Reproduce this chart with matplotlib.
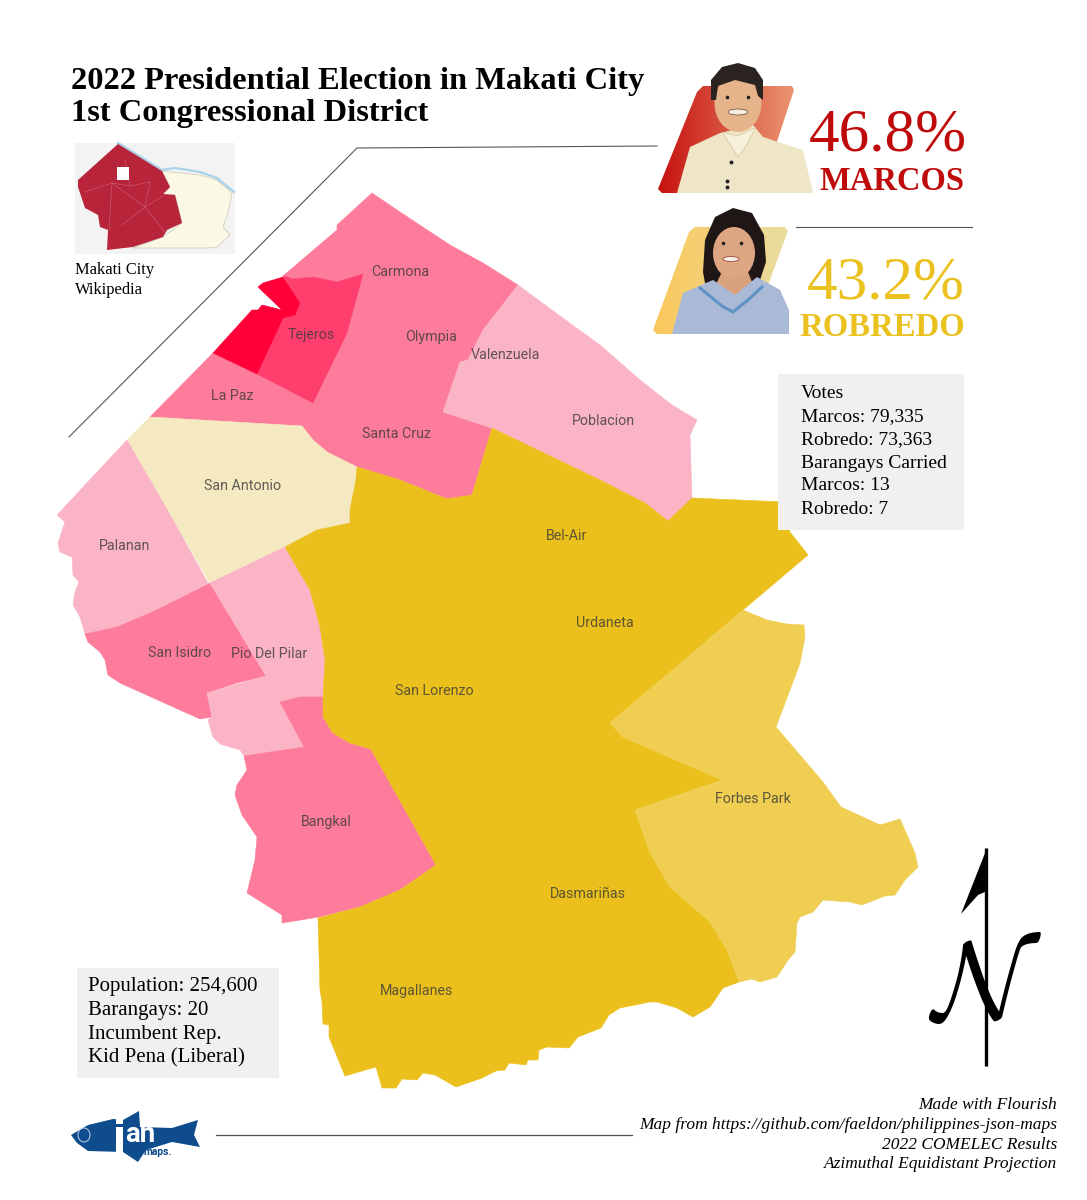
import numpy as np
import matplotlib
matplotlib.use("Agg")
import matplotlib.pyplot as plt
from matplotlib.patches import Polygon, Rectangle, Ellipse
from matplotlib.colors import LinearSegmentedColormap

# ---- barangay outlines (x, y in map pixels) ----
north_pink = [(372,193),(400,212),(450,245),(483,263),(518,285),(483,330),(468,360),(460,362),(443,412),(492,428),(472,495),(447,499),(400,480),(357,467),(327,452),(313,440),(302,426),(150,417),(213,353),(257,374),(313,403),(347,333),(363,274),(337,282),(313,277),(293,279),(283,276),(337,230),(337,225)]
tejeros = [(283,276),(293,279),(313,277),(337,282),(363,274),(347,333),(313,403),(257,374),(277,330),(283,318),(295,315),(300,303)]
kasilawan = [(258,287),(263,283),(283,277),(300,303),(295,315),(283,318),(257,374),(213,353),(252,310),(258,310),(262,305),(282,310)]
east_light = [(518,285),(560,316),(600,345),(640,380),(672,405),(697,420),(690,435),(692,498),(668,521),(645,503),(600,480),(492,428),(443,412),(460,362),(468,360),(483,330)]
san_antonio = [(150,417),(302,426),(313,440),(327,452),(357,467),(356,480),(350,510),(350,523),(317,530),(285,547),(210,583),(127,440)]
palanan = [(127,440),(173,520),(208,583),(177,600),(150,613),(117,627),(85,634),(80,617),(73,605),(75,592),(79,582),(73,575),(72,557),(60,552),(58,543),(65,522),(57,515)]
san_isidro = [(85,634),(117,627),(150,613),(177,600),(210,583),(266,676),(237,683),(207,693),(212,717),(200,719),(120,683),(108,675),(105,660),(100,652),(88,642)]
pio_del_pilar = [(210,583),(285,547),(310,590),(320,627),(325,660),(323,697),(300,697),(280,702),(304,747),(244,756),(240,750),(220,744),(213,737),(208,720),(212,717),(207,693),(266,676)]
bangkal = [(280,702),(300,697),(323,697),(323,717),(333,733),(350,743),(371,749),(436,865),(400,890),(360,907),(319,917),(282,923),(282,915),(247,893),(255,860),(257,837),(242,815),(235,795),(237,785),(247,770),(244,756),(304,747)]
gold_core = [(285,547),(317,530),(350,523),(350,510),(356,480),(357,467),(400,480),(447,499),(472,495),(492,428),(600,480),(645,503),(668,521),(692,498),(785,502),(790,532),(808,555),(743,610),(610,723),(623,737),(722,780),(635,810),(650,853),(670,887),(710,922),(727,950),(739,982),(723,988),(710,1007),(693,1017),(677,1008),(657,1002),(650,1002),(620,1008),(609,1015),(601,1028),(578,1037),(569,1048),(547,1047),(539,1050),(538,1060),(528,1060),(526,1065),(509,1063),(505,1070),(496,1071),(482,1078),(456,1087),(435,1075),(423,1073),(417,1080),(402,1079),(396,1088),(382,1088),(376,1067),(345,1076),(329,1037),(329,1025),(323,1024),(322,1002),(320,990),(318,918),(360,907),(400,890),(436,865),(371,749),(350,743),(333,733),(323,717),(323,697),(325,660),(320,627),(310,590)]
forbes_park = [(743,610),(767,620),(787,624),(804,625),(805,637),(800,663),(793,682),(776,727),(823,782),(841,807),(880,825),(900,819),(915,853),(918,867),(905,880),(895,895),(885,896),(862,905),(850,902),(823,900),(813,912),(800,917),(797,923),(795,952),(788,960),(777,977),(760,982),(752,979),(739,982),(727,950),(710,922),(670,887),(650,853),(635,810),(722,780),(623,737),(610,723)]

map_regions = [(north_pink,'#FD7C9B'),(tejeros,'#FE3F6E'),(kasilawan,'#FF0038'),(east_light,'#FAB4C6'),
               (san_antonio,'#F4E9C0'),(palanan,'#FAB4C6'),(san_isidro,'#FD7C9B'),(pio_del_pilar,'#FAB4C6'),
               (bangkal,'#FD7C9B'),(gold_core,'#ECC01C'),(forbes_park,'#EFCE52')]

label_names = ['Carmona','Tejeros','Olympia','Valenzuela','La Paz','Santa Cruz','Poblacion','San Antonio','Bel-Air','Palanan','Urdaneta','San Isidro','Pio Del Pilar','San Lorenzo','Forbes Park','Bangkal','Dasmariñas','Magallanes']
label_x = [400,311,431,505,232,396,603,243,567,125,605,180,269,434,753,326,588,417]
label_y = [272,335,337,355,396,434,421,486,536,546,623,653,654,691,799,822,894,991]

title_lines = ['2022 Presidential Election in Makati City','1st Congressional District']
marcos_pct, robredo_pct = '46.8%', '43.2%'
votes_lines = ['Votes','Marcos: 79,335','Robredo: 73,363','Barangays Carried','Marcos: 13','Robredo: 7']
info_lines = ['Population: 254,600','Barangays: 20','Incumbent Rep.','Kid Pena (Liberal)']
credit_lines = ['Made with Flourish','Map from https://github.com/faeldon/philippines-json-maps','2022 COMELEC Results','Azimuthal Equidistant Projection']

# inset locator map
inset_red = [(118,144),(162,171),(170,187),(163,194),(175,195),(182,223),(167,230),(163,237),(133,247),(107,250),(108,230),(100,227),(98,215),(85,208),(78,187),(78,180)]
inset_hole = [(117,167),(129,167),(129,180),(117,180)]
inset_cream = [(162,171),(200,175),(217,180),(232,193),(228,213),(223,227),(230,235),(217,247),(208,248),(133,248),(163,237),(182,223),(175,195),(163,194),(170,187)]
inset_river = [(118,143),(162,170),(175,168),(200,172),(217,178),(234,192)]
inset_lines = [[(85,192),(112,183),(130,186),(150,182)],[(112,183),(109,230)],[(112,183),(145,207),(122,225)],[(145,207),(163,196)],[(145,207),(165,232)],[(125,160),(130,186)],[(150,182),(145,207)]]

# portraits (simplified)
marcos_bg = [(703,86),(792,86),(794,90),(760,193),(662,193),(658,189),(697,92)]
marcos_body = [(677,193),(690,147),(720,133),(753,125),(763,137),(803,150),(813,193)]
marcos_hair = [(711,100),(711,80),(722,67),(738,63),(755,68),(763,80),(763,100),(758,96),(755,85),(735,80),(718,86),(716,100)]
marcos_collar = [(722,132),(738,157),(746,146),(756,127),(738,136)]
marcos_buttons_x = [731,727,727]
marcos_buttons_y = [162,181,187]
robredo_bg = [(695,227),(785,227),(788,231),(750,334),(657,334),(653,330),(689,232)]
robredo_hair = [(703,272),(705,240),(715,217),(733,208),(752,213),(764,235),(766,262),(760,280),(745,285),(718,285),(705,283)]
robredo_body = [(672,334),(683,293),(713,280),(735,295),(757,277),(780,290),(789,310),(789,334)]
robredo_neck = [(722,272),(748,272),(752,282),(735,300),(716,284)]
robredo_trim = [[(700,288),(722,306),(733,312),(748,300),(762,287)]]

# logo and north arrow
fish = [(71,1135),(88,1125),(113,1119),(123,1120),(139,1111),(140,1127),(172,1128),(198,1120),(194,1135),(200,1147),(172,1142),(146,1150),(138,1162),(123,1152),(88,1151),(77,1143)]
arrow_flag = [(987,848),(961,914),(978,895),(985,892)]

serif = 'Liberation Serif'
label_font = ['Roboto']

fig = plt.figure(figsize=(10.87, 12), dpi=100)
ax = fig.add_axes([0, 0, 1, 1])

def restore():
    ax.set_xlim(0, 1087); ax.set_ylim(1200, 0); ax.axis('off')

def gradient(poly, c0, c1, z):
    xs, ys = zip(*poly)
    cm = LinearSegmentedColormap.from_list('g', [c0, c1])
    im = ax.imshow(np.linspace(0, 1, 128).reshape(1, -1), cmap=cm, aspect='auto', zorder=z,
                   extent=(min(xs), max(xs), max(ys), min(ys)))
    p = Polygon(poly, closed=True, transform=ax.transData, fc='none', ec='none')
    ax.add_patch(p); im.set_clip_path(p)

restore()

for poly, col in map_regions:
    ax.add_patch(Polygon(poly, closed=True, fc=col, ec=col, lw=0.4, zorder=2))
for n, x, y in zip(label_names, label_x, label_y):
    ax.text(x, y, n, family=label_font, fontsize=10.3, color='#3a3a3a', alpha=0.8, ha='center', va='center', zorder=3)

for i, t in enumerate(title_lines):
    ax.text(71, 82 + 31*i, t, family=serif, weight='bold', fontsize=23.4, color='black', va='center', ha='left', zorder=5)

# connector rules
ax.plot([69,357,657],[437,148,146], color='#555555', lw=0.8, zorder=1)
ax.plot([796,972],[227,227], color='#555555', lw=0.8, zorder=1)
ax.plot([216,632],[1135,1135], color='#555555', lw=0.9, zorder=1)

# inset
ax.add_patch(Rectangle((75,143),160,111, fc='#F3F3F3', ec='none', zorder=1))
ax.add_patch(Polygon(inset_cream, closed=True, fc='#FBF9E6', ec='#CFCFC0', lw=0.6, zorder=2))
ax.plot(*zip(*inset_river), color='#A9D3EA', lw=1.6, zorder=2)
ax.add_patch(Polygon(inset_red, closed=True, fc='#B8243A', ec='none', zorder=3))
for l in inset_lines:
    ax.plot(*zip(*l), color='#C9586A', lw=0.5, zorder=3)
ax.add_patch(Polygon(inset_hole, closed=True, fc='white', ec='none', zorder=4))
ax.text(75, 270, 'Makati City', family=serif, fontsize=11.9, va='center', zorder=5)
ax.text(75, 290, 'Wikipedia', family=serif, fontsize=11.9, va='center', zorder=5)

# portraits
gradient(marcos_bg, '#C5120F', '#EC9570', 4)
ax.add_patch(Polygon(marcos_body, closed=True, fc='#EFE6C8', ec='none', zorder=5))
ax.add_patch(Polygon(marcos_collar, closed=True, fc='#F6F0DA', ec='#CFC4A0', lw=0.5, zorder=6))
ax.plot(marcos_buttons_x, marcos_buttons_y, ls='none', marker='o', ms=1.8, color='#222222', zorder=7)
ax.add_patch(Ellipse((738,103),47,58, fc='#E6B48A', ec='none', zorder=6))
ax.add_patch(Polygon(marcos_hair, closed=True, fc='#2A2320', ec='none', zorder=7))
ax.add_patch(Ellipse((738,112),20,6, fc='#F4EDE0', ec='#6b3b2a', lw=0.5, zorder=8))
ax.plot([727,748],[97,97], ls='none', marker='o', ms=1.6, color='#222222', zorder=8)
gradient(robredo_bg, '#FBC85A', '#E9DDA0', 4)
ax.add_patch(Polygon(robredo_hair, closed=True, fc='#1F1715', ec='none', zorder=5))
ax.add_patch(Polygon(robredo_neck, closed=True, fc='#D9A07C', ec='none', zorder=5))
ax.add_patch(Polygon(robredo_body, closed=True, fc='#A9B9D6', ec='none', zorder=6))
for l in robredo_trim:
    ax.plot(*zip(*l), color='#5F93C6', lw=2.2, zorder=7)
ax.add_patch(Ellipse((734,253),42,52, fc='#DDA582', ec='none', zorder=7))
ax.add_patch(Ellipse((731,259),16,5, fc='#F7F0EA', ec='#A0443C', lw=0.6, zorder=8))
ax.plot([723,741],[243,243], ls='none', marker='o', ms=1.6, color='#222222', zorder=8)

# results
ax.text(967, 136, marcos_pct, family=serif, fontsize=44, color='#BE0A0A', ha='right', va='center', zorder=5)
ax.text(964, 181, 'MARCOS', family=serif, weight='bold', fontsize=23.5, color='#BE0A0A', ha='right', va='center', zorder=5)
ax.text(965, 284, robredo_pct, family=serif, fontsize=44, color='#EAC11F', ha='right', va='center', zorder=5)
ax.text(965, 328, 'ROBREDO', family=serif, weight='bold', fontsize=23.6, color='#EAC11F', ha='right', va='center', zorder=5)

# text boxes
ax.add_patch(Rectangle((778,374),186,156, fc='#F0F0F0', ec='none', zorder=4))
for i, t in enumerate(votes_lines):
    ax.text(801, 394 + 23*i, t, family=serif, fontsize=14, va='center', zorder=5)
ax.add_patch(Rectangle((77,968),202,110, fc='#F0F0F0', ec='none', zorder=4))
for i, t in enumerate(info_lines):
    ax.text(88, 987 + 23.7*i, t, family=serif, fontsize=15, va='center', zorder=5)
for i, t in enumerate(credit_lines):
    ax.text(1057, 1105 + 19.8*i, t, family=serif, style='italic', fontsize=12.5, ha='right', va='center', zorder=5)

# logo
ax.add_patch(Polygon(fish, closed=True, fc='#0F4C8E', ec='none', zorder=4))
ax.add_patch(Rectangle((116,1127),7,28, fc='white', ec='none', zorder=5))
ax.add_patch(Rectangle((116,1119),7,5, fc='white', ec='none', zorder=5))
ax.add_patch(Ellipse((84,1135),12,14, fc='none', ec='#BFD3E8', lw=0.7, zorder=5))
ax.text(125, 1135, 'an', family='Roboto', weight='bold', fontsize=20, color='white', va='center', zorder=6)
ax.text(144, 1152, 'maps.', family='Roboto', weight='bold', fontsize=7.5, color='#0F4C8E', va='center', zorder=6)

# north arrow
ax.plot([986,986],[848,1066], color='black', lw=2.4, solid_capstyle='butt', zorder=4)
ax.add_patch(Polygon(arrow_flag, closed=True, fc='black', ec='none', zorder=4))
ax.text(985, 988, r'$\mathcal{N}$', math_fontfamily='cm', fontsize=80, color='black', ha='center', va='center', zorder=5)

restore()
fig.savefig('out.png', dpi=100)
